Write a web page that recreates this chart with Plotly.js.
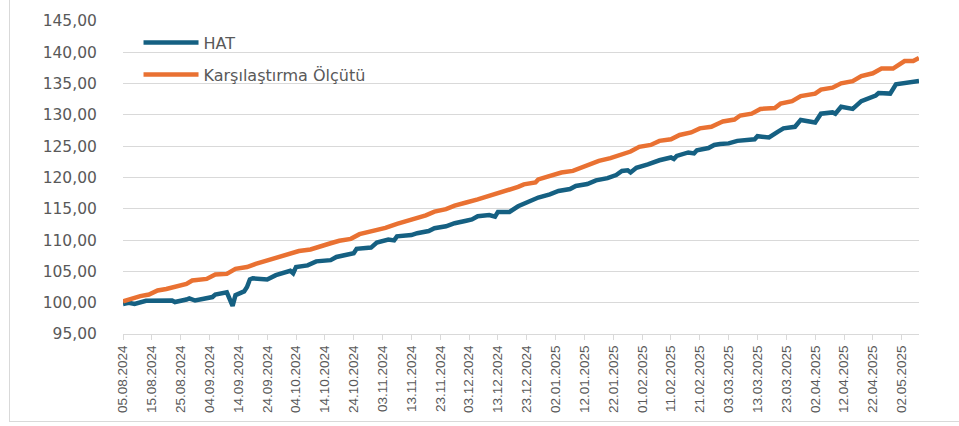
<!DOCTYPE html>
<html>
<head>
<meta charset="utf-8">
<script src="https://cdn.plot.ly/plotly-3.0.1.min.js"></script>
<style>
  html, body { margin: 0; padding: 0; background: #ffffff; }
  #frame { position: absolute; left: 9px; top: -10px; width: 1000px; height: 432px; box-sizing: border-box;
           border-left: 1px solid #d9d9d9; border-bottom: 1px solid #d9d9d9; pointer-events: none; }
  #chart { position: absolute; left: 0; top: 0; width: 959px; height: 426px; }
</style>
</head>
<body>
<div id="chart"></div>
<div id="frame"></div>
<script>
// Series names
const seriesNames = ["HAT", "Karşılaştırma Ölçütü"];

// HAT series (dates and index values)
const hatDates = [
  "2024-08-05","2024-08-07","2024-08-09","2024-08-13","2024-08-22","2024-08-23","2024-08-27","2024-08-28",
  "2024-08-30","2024-09-04","2024-09-05","2024-09-06","2024-09-10","2024-09-12","2024-09-13","2024-09-16",
  "2024-09-17","2024-09-18","2024-09-19","2024-09-24","2024-09-27","2024-10-02","2024-10-03","2024-10-04",
  "2024-10-08","2024-10-11","2024-10-16","2024-10-18","2024-10-22","2024-10-24","2024-10-25","2024-10-28",
  "2024-10-30","2024-11-01","2024-11-05","2024-11-07","2024-11-08","2024-11-13","2024-11-15","2024-11-19",
  "2024-11-21","2024-11-25","2024-11-28","2024-12-02","2024-12-04","2024-12-06","2024-12-10","2024-12-12",
  "2024-12-13","2024-12-17","2024-12-19","2024-12-20","2024-12-24","2024-12-27","2024-12-31","2025-01-03",
  "2025-01-07","2025-01-09","2025-01-13","2025-01-16","2025-01-20","2025-01-23","2025-01-25","2025-01-27",
  "2025-01-28","2025-01-30","2025-02-03","2025-02-07","2025-02-11","2025-02-12","2025-02-13","2025-02-17",
  "2025-02-19","2025-02-20","2025-02-24","2025-02-26","2025-02-28","2025-03-03","2025-03-06","2025-03-12",
  "2025-03-13","2025-03-17","2025-03-20","2025-03-22","2025-03-26","2025-03-28","2025-04-02","2025-04-04",
  "2025-04-08","2025-04-09","2025-04-11","2025-04-15","2025-04-18","2025-04-22","2025-04-23","2025-04-24",
  "2025-04-28","2025-04-30","2025-05-04","2025-05-08"
];
const hatValues = [
  99.8,100.0,99.8,100.3,100.35,100.1,100.5,100.7,
  100.35,100.7,100.9,101.3,101.65,99.5,101.2,101.8,
  102.5,103.7,103.9,103.7,104.4,105.1,104.7,105.7,
  105.96,106.6,106.8,107.3,107.8,107.9,108.6,108.8,
  108.8,109.6,110.1,109.95,110.6,110.8,111.1,111.45,
  111.9,112.2,112.7,113.1,113.3,113.8,114.0,113.75,
  114.5,114.5,115.1,115.4,116.2,116.8,117.3,117.85,
  118.15,118.65,118.95,119.55,119.9,120.4,121.05,121.15,
  120.8,121.55,122.1,122.75,123.2,122.95,123.45,124.0,
  123.85,124.35,124.7,125.2,125.35,125.45,125.85,126.1,
  126.6,126.4,127.3,127.85,128.1,129.2,128.8,130.2,
  130.4,130.2,131.3,130.95,132.2,132.85,133.1,133.5,
  133.4,134.9,135.1,135.4
];

// Karşılaştırma Ölçütü (benchmark) series
const benchDates = [
  "2024-08-05","2024-08-09","2024-08-11","2024-08-14","2024-08-17","2024-08-20","2024-08-24","2024-08-27",
  "2024-08-29","2024-09-03","2024-09-06","2024-09-10","2024-09-13","2024-09-17","2024-09-20","2024-09-24",
  "2024-09-28","2024-10-02","2024-10-05","2024-10-09","2024-10-12","2024-10-16","2024-10-19","2024-10-23",
  "2024-10-26","2024-10-30","2024-11-01","2024-11-04","2024-11-08","2024-11-11","2024-11-14","2024-11-18",
  "2024-11-21","2024-11-25","2024-11-28","2024-11-30","2024-12-02","2024-12-06","2024-12-09","2024-12-13",
  "2024-12-17","2024-12-20","2024-12-22","2024-12-26","2024-12-27","2024-12-30","2025-01-02","2025-01-04",
  "2025-01-08","2025-01-11","2025-01-14","2025-01-17","2025-01-21","2025-01-25","2025-01-28","2025-01-31",
  "2025-02-04","2025-02-07","2025-02-11","2025-02-14","2025-02-18","2025-02-21","2025-02-25","2025-02-28",
  "2025-03-01","2025-03-05","2025-03-07","2025-03-11","2025-03-14","2025-03-19","2025-03-21","2025-03-25",
  "2025-03-28","2025-04-02","2025-04-04","2025-04-08","2025-04-11","2025-04-15","2025-04-18","2025-04-22",
  "2025-04-25","2025-04-29","2025-05-03","2025-05-06","2025-05-08"
];
const benchValues = [
  100.2,100.8,101.05,101.3,101.95,102.2,102.75,103.0,
  103.55,103.8,104.5,104.6,105.4,105.7,106.2,106.75,
  107.3,107.8,108.25,108.5,109.0,109.5,109.9,110.2,
  110.95,111.35,111.6,111.95,112.6,113.0,113.55,113.95,
  114.55,114.95,115.5,115.8,116.0,116.5,116.9,117.6,
  117.95,118.5,118.9,119.2,119.7,120.1,120.45,120.8,
  121.05,121.6,122.0,122.65,123.1,123.7,124.15,124.9,
  125.2,125.85,126.1,126.8,127.2,127.85,128.1,128.75,
  128.95,129.25,129.9,130.2,130.95,131.1,131.8,132.2,
  133.0,133.4,134.05,134.35,135.05,135.4,136.2,136.65,
  137.4,137.4,138.6,138.6,139.1
];

// Axis settings
const xRange = ["2024-08-05", "2025-05-08"];
const xTickStart = "2024-08-05";
const xTickDays = 10;
const yRange = [95, 145];
const yTickStep = 5;

const textColor = "#595959";
const gridColor = "#d9d9d9";

const traces = [
  {
    x: hatDates, y: hatValues, name: seriesNames[0], type: "scatter", mode: "lines",
    line: { color: "#156082", width: 4.5 }, legendgroup: "a"
  },
  {
    x: benchDates, y: benchValues, name: seriesNames[1], type: "scatter", mode: "lines",
    line: { color: "#E97132", width: 4.5 }, legendgroup: "b"
  }
];

const layout = {
  width: 959, height: 426,
  margin: { l: 123, r: 40, t: 21, b: 92, pad: 0 },
  paper_bgcolor: "rgba(0,0,0,0)",
  plot_bgcolor: "#ffffff",
  separators: ",.",
  showlegend: true,
  legend: {
    x: 0.0195, y: 0.985, xanchor: "left", yanchor: "top",
    bgcolor: "rgba(0,0,0,0)", borderwidth: 0,
    traceorder: "grouped", tracegroupgap: 8, itemwidth: 55,
    font: { family: "DejaVu Sans, Arial, sans-serif", size: 16, color: textColor }
  },
  xaxis: {
    type: "date", range: xRange, autorange: false,
    tick0: xTickStart, dtick: xTickDays * 86400000, tickformat: "%d.%m.%Y",
    tickangle: -90, ticks: "outside", ticklen: 5, tickwidth: 1, tickcolor: gridColor,
    showline: true, linecolor: gridColor, linewidth: 1,
    showgrid: false, zeroline: false, automargin: false,
    tickfont: { family: "Liberation Sans, Arial, sans-serif", size: 13.5, color: textColor }
  },
  yaxis: {
    range: yRange, autorange: false, dtick: yTickStep, tick0: 95, tickformat: ".2f",
    ticks: "outside", ticklen: 22, tickcolor: "rgba(0,0,0,0)",
    showgrid: true, gridcolor: gridColor, gridwidth: 1, zeroline: false, showline: false,
    automargin: false,
    tickfont: { family: "DejaVu Sans, Arial, sans-serif", size: 15.5, color: textColor }
  }
};

Plotly.newPlot("chart", traces, layout, { staticPlot: true, displayModeBar: false });
</script>
</body>
</html>
